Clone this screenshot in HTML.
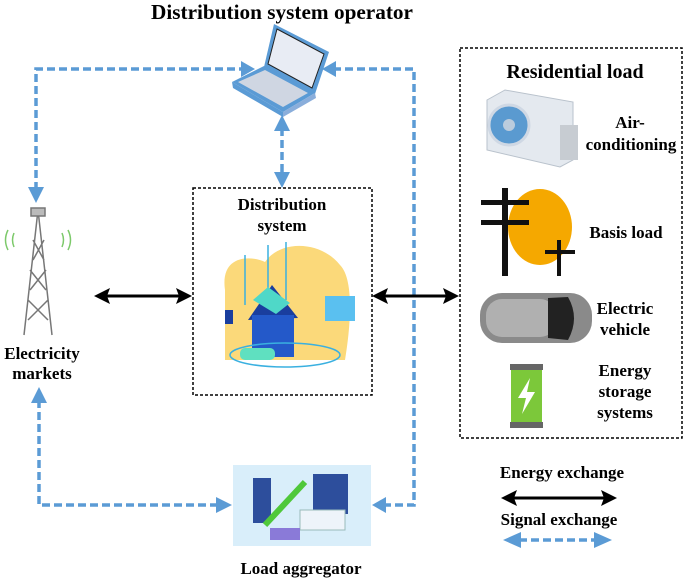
<!DOCTYPE html>
<html><head><meta charset="utf-8"><style>
html,body{margin:0;padding:0;background:#fff;}
svg{display:block;}
text{font-family:"Liberation Serif",serif;font-weight:bold;fill:#000;}
</style></head><body>
<svg width="685" height="578" viewBox="0 0 685 578" xmlns="http://www.w3.org/2000/svg">
<text x="282" y="19" font-size="21" text-anchor="middle" textLength="262" lengthAdjust="spacingAndGlyphs">Distribution system operator</text>

<!-- laptop -->
<g>
<path d="M274,24 L329,52 L315,94 L264,67z" fill="#5b9bd5"/>
<path d="M277,29 L324,54 L312,88 L268,64z" fill="#e8ecf4" stroke="#222" stroke-width="1"/>
<path d="M232,82 L264,66 L315,93 L283,112z" fill="#5b9bd5"/>
<path d="M238,82 L265,70 L308,93 L283,107z" fill="#cfd6e2"/>
<path d="M232,82 L283,112 L283,117 L233,88z" fill="#5b9bd5"/>
<path d="M283,112 L315,93 L316,98 L283,117z" fill="#8aaedb"/>
</g>

<!-- signal lines -->
<g stroke="#5b9bd5" stroke-width="3.5" fill="none" stroke-dasharray="8,4">
<path d="M36,190 L36,69 L244,69"/>
<path d="M333,69 L414,69 L414,505 L384,505"/>
<path d="M282,128 L282,176"/>
<path d="M39,400 L39,505 L220,505"/>
<path d="M519,540 L598,540"/>
</g>
<g fill="#5b9bd5">
<path d="M255,69 L241,61 L241,77z"/>
<path d="M322,69 L336,61 L336,77z"/>
<path d="M36,203 L28,187 L44,187z"/>
<path d="M282,115 L274,131 L290,131z"/>
<path d="M282,188 L274,172 L290,172z"/>
<path d="M39,387 L31,403 L47,403z"/>
<path d="M232,505 L216,497 L216,513z"/>
<path d="M372,505 L386,497 L386,513z"/>
<path d="M503,540 L521,532 L521,548z"/>
<path d="M612,540 L594,532 L594,548z"/>
</g>

<!-- energy arrows -->
<g stroke="#000" stroke-width="3" fill="none">
<path d="M100,296 L182,296"/>
<path d="M380,296 L450,296"/>
<path d="M508,498 L610,498"/>
</g>
<g fill="#000">
<path d="M94,296 L110,288 L107,296 L110,304z"/>
<path d="M192,296 L176,288 L179,296 L176,304z"/>
<path d="M372,296 L388,288 L385,296 L388,304z"/>
<path d="M459,296 L443,288 L446,296 L443,304z"/>
<path d="M501,498 L517,490 L514,498 L517,506z"/>
<path d="M617,498 L601,490 L604,498 L601,506z"/>
</g>

<!-- distribution box -->
<rect x="193" y="188" width="179" height="207" fill="none" stroke="#000" stroke-width="1.5" stroke-dasharray="3,2"/>
<text x="282" y="210" font-size="17" text-anchor="middle">Distribution</text>
<text x="282" y="231" font-size="17" text-anchor="middle">system</text>
<g>
<path d="M225,290 C220,255 250,255 265,262 C280,240 320,240 340,265 C355,280 350,330 345,360 L225,360z" fill="#fbd97a"/>
<line x1="245" y1="305" x2="245" y2="255" stroke="#3ab0e0" stroke-width="1.5"/>
<line x1="268" y1="305" x2="268" y2="245" stroke="#3ab0e0" stroke-width="1.5"/>
<line x1="286" y1="300" x2="286" y2="242" stroke="#3ab0e0" stroke-width="1.5"/>
<path d="M248,320 L272,285 L298,318z" fill="#1a3e9e"/>
<rect x="252" y="315" width="42" height="42" fill="#2459c9"/>
<path d="M253,300 L268,287 L290,303 L276,314z" fill="#4fd8c8"/>
<rect x="325" y="296" width="30" height="25" fill="#5ac0f0"/>
<ellipse cx="285" cy="355" rx="55" ry="12" fill="none" stroke="#3ab0e0" stroke-width="1.5"/>
<rect x="240" y="348" width="35" height="12" rx="5" fill="#5fe0c0"/>
<rect x="225" y="310" width="8" height="14" fill="#1a3e9e"/>
</g>

<!-- tower -->
<g stroke="#777" stroke-width="1.5" fill="none">
<path d="M38,210 L24,335 M38,210 L52,335 M28,300 L48,320 M48,300 L28,320 M30,270 L46,290 M46,270 L30,290 M33,240 L44,260 M44,240 L33,260"/>
<rect x="31" y="208" width="14" height="8" fill="#bbb"/>
</g>
<g stroke="#7cc96a" stroke-width="1.5" fill="none">
<path d="M8,230 Q3,240 8,250"/><path d="M14,233 Q11,240 14,247"/>
<path d="M68,230 Q73,240 68,250"/><path d="M62,233 Q65,240 62,247"/>
</g>
<text x="42" y="359" font-size="17" text-anchor="middle">Electricity</text>
<text x="42" y="379" font-size="17" text-anchor="middle">markets</text>

<!-- residential box -->
<rect x="460" y="48" width="222" height="390" fill="none" stroke="#000" stroke-width="1.5" stroke-dasharray="3,2"/>
<text x="575" y="78" font-size="20" text-anchor="middle">Residential load</text>
<!-- AC -->
<path d="M487,128 L487,100 L505,90 L573,102 L573,160 L560,167 L487,150z" fill="#e4e9ef" stroke="#b9c2cc"/>
<circle cx="509" cy="125" r="20" fill="#5a9ad0" stroke="#cfd8e4" stroke-width="3"/>
<circle cx="509" cy="125" r="6" fill="#bcd"/>
<rect x="560" y="125" width="18" height="35" fill="#c7ccd2"/>
<text x="630" y="128" font-size="17" text-anchor="middle">Air-</text>
<text x="631" y="150" font-size="17" text-anchor="middle">conditioning</text>
<!-- pole -->
<ellipse cx="540" cy="227" rx="32" ry="38" fill="#f5a800"/>
<rect x="502" y="188" width="6" height="88" fill="#111"/>
<rect x="481" y="200" width="48" height="5" fill="#111"/>
<rect x="481" y="220" width="48" height="5" fill="#111"/>
<rect x="557" y="240" width="4" height="36" fill="#111"/>
<rect x="545" y="250" width="30" height="4" fill="#111"/>
<text x="626" y="238" font-size="17" text-anchor="middle">Basis load</text>
<!-- car -->
<rect x="480" y="293" width="112" height="50" rx="22" fill="#8a8a8a"/>
<rect x="486" y="299" width="70" height="38" rx="16" fill="#b0b0b0"/>
<path d="M548,298 L568,297 Q580,318 568,340 L548,338z" fill="#222"/>
<text x="625" y="314" font-size="17" text-anchor="middle">Electric</text>
<text x="625" y="335" font-size="17" text-anchor="middle">vehicle</text>
<!-- battery -->
<rect x="510" y="364" width="33" height="6" fill="#666"/>
<rect x="511" y="370" width="31" height="52" fill="#7cc83a"/>
<rect x="510" y="422" width="33" height="6" fill="#666"/>
<path d="M530,378 L518,398 L526,398 L522,414 L535,392 L527,392z" fill="#fff"/>
<text x="625" y="376" font-size="17" text-anchor="middle">Energy</text>
<text x="625" y="397" font-size="17" text-anchor="middle">storage</text>
<text x="625" y="418" font-size="17" text-anchor="middle">systems</text>

<!-- legend -->
<text x="562" y="478" font-size="17" text-anchor="middle">Energy exchange</text>
<text x="559" y="525" font-size="17" text-anchor="middle">Signal exchange</text>

<!-- aggregator -->
<rect x="233" y="465" width="138" height="81" fill="#d9eefa"/>
<rect x="253" y="478" width="18" height="45" fill="#2d4e9c"/>
<rect x="313" y="474" width="35" height="40" fill="#2d4e9c"/>
<rect x="300" y="510" width="45" height="20" fill="#eef4fa" stroke="#9bb" />
<path d="M265,525 L305,482" stroke="#4fc83a" stroke-width="6"/>
<rect x="270" y="528" width="30" height="12" fill="#8a7ad8"/>
<text x="301" y="574" font-size="17" text-anchor="middle">Load aggregator</text>
</svg>
</body></html>
